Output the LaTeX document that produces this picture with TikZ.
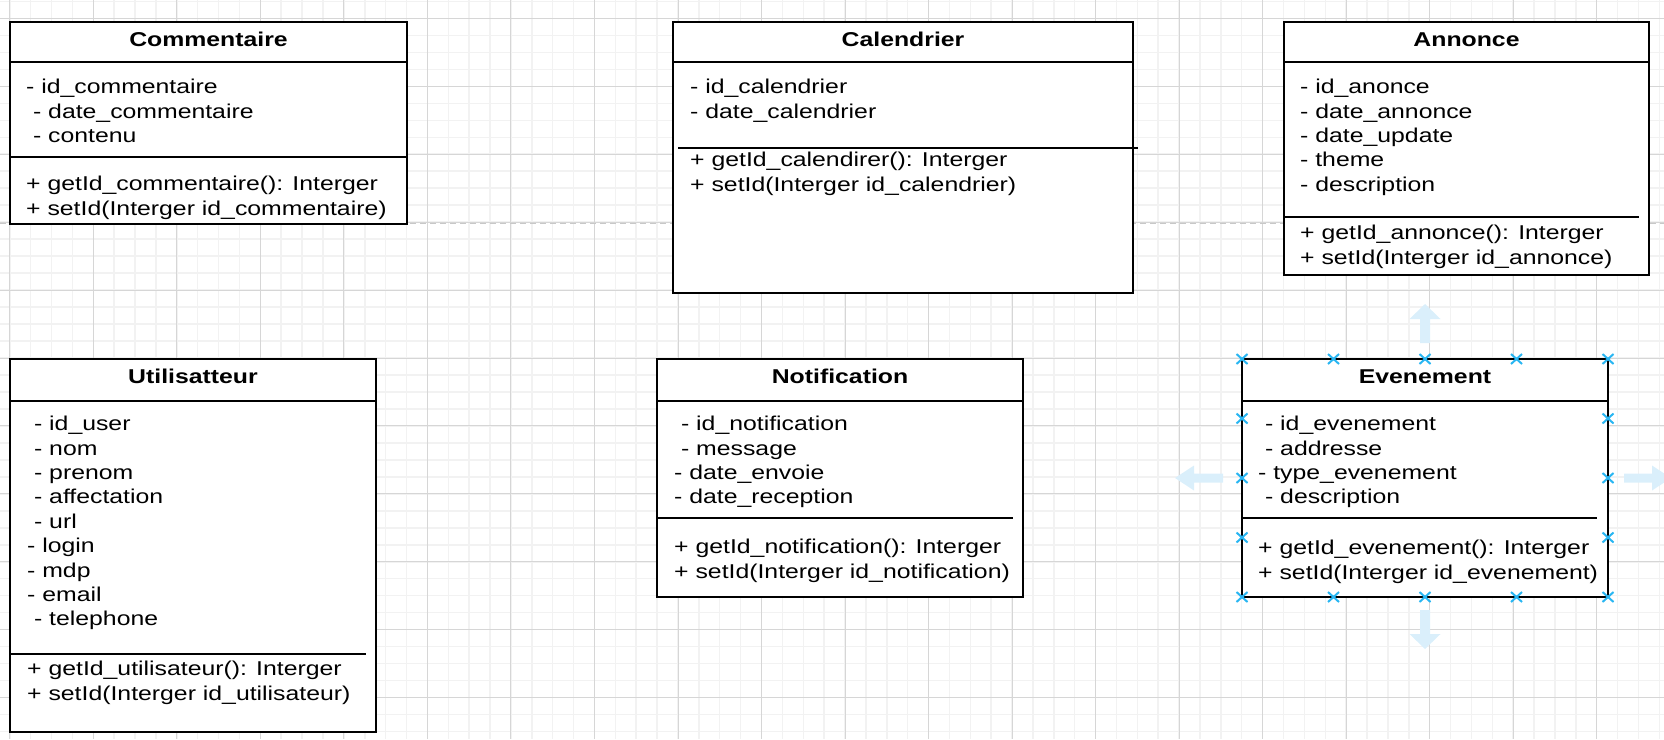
\documentclass[tikz,border=0pt]{standalone}
\usepackage{fontspec}
\setmainfont[FakeStretch=1.24]{Liberation Sans}
\usetikzlibrary{positioning, calc}

\definecolor{gridminor}{RGB}{242,242,242}
\definecolor{gridmajor}{RGB}{214,214,214}
\definecolor{pageline}{RGB}{200,200,200}
\definecolor{selblue}{RGB}{41,182,242}
\definecolor{hintblue}{RGB}{218,239,251}

\begin{document}
\begin{tikzpicture}[x=1pt, y=-1pt,
    classbox/.style={draw, fill=white, line width=1.7pt, anchor=north west, outer sep=0pt, inner sep=0pt},
    classname/.style={anchor=base, inner sep=0pt, font=\fontsize{20}{24.4}\selectfont\bfseries},
    members/.style={anchor=north west, align=left, inner sep=0pt, font=\fontsize{20}{24.4}\selectfont},
    divider/.style={line width=1.4pt},
    minorgrid/.style={gridminor, line width=1.5pt},
    majorgrid/.style={gridmajor, line width=1pt},
    pagebreak/.style={pageline, line width=1pt, dash pattern=on 6pt off 4pt},
    handle/.style={selblue, line width=2pt},
    hint/.style={fill=hintblue}]

    \useasboundingbox (0,0) rectangle (1664,739);
    \clip (0,0) rectangle (1664,739);

    \foreach \i in {-1,...,79} \draw[minorgrid] ({9.8+20.88*\i},0) -- ++(0,739);
    \foreach \j in {-1,...,43} \draw[minorgrid] (0,{18.4+16.98*\j}) -- ++(1664,0);
    \foreach \i in {-1,...,19} \draw[majorgrid] ({9.8+83.53*\i},0) -- ++(0,739);
    \foreach \j in {0,...,11} \draw[majorgrid] (0,{18.4+67.92*\j}) -- ++(1664,0);
    \draw[pagebreak] (0,223.3) -- (1664,223.3);

    % Commentaire
    \node (com) [classbox, minimum width=397, minimum height=202] at (10,22) {};
    \node (com-name) [classname] at (208.5,46.7) {Commentaire};
    \draw[divider] (10,62) -- (407,62);
    \draw[divider] (10,157) -- (407,157);
    \node (com-attr) [members] at (26,76.4) {\strut- id\_commentaire\\
        \ - date\_commentaire\\
        \ - contenu};
    \node (com-meth) [members] at (26,173.4) {\strut+ getId\_commentaire(): Interger\\
        + setId(Interger id\_commentaire)};

    % Calendrier
    \node (cal) [classbox, minimum width=460, minimum height=271] at (673,22) {};
    \node (cal-name) [classname] at (903,46.7) {Calendrier};
    \draw[divider] (673,62) -- (1133,62);
    \draw[divider] (678,148) -- (1138,148);
    \node (cal-attr) [members] at (690,76.4) {\strut- id\_calendrier\\
        - date\_calendrier};
    \node (cal-meth) [members] at (690,149.4) {\strut+ getId\_calendirer(): Interger\\
        + setId(Interger id\_calendrier)};

    % Annonce
    \node (ann) [classbox, minimum width=365, minimum height=253] at (1284,22) {};
    \node (ann-name) [classname] at (1466.5,46.7) {Annonce};
    \draw[divider] (1284,62) -- (1649,62);
    \draw[divider] (1284,217) -- (1639,217);
    \node (ann-attr) [members] at (1300,76.4) {\strut- id\_anonce\\
        - date\_annonce\\
        - date\_update\\
        - theme\\
        - description};
    \node (ann-meth) [members] at (1300,222.4) {\strut+ getId\_annonce(): Interger\\
        + setId(Interger id\_annonce)};

    % Utilisatteur
    \node (uti) [classbox, minimum width=366, minimum height=373] at (10,359) {};
    \node (uti-name) [classname] at (193,383.7) {Utilisatteur};
    \draw[divider] (10,401) -- (376,401);
    \draw[divider] (10,654) -- (366,654);
    \node (uti-attr) [members] at (27,413.4) {\strut\ - id\_user\\
        \ - nom\\
        \ - prenom\\
        \ - affectation\\
        \ - url\\
        - login\\
        - mdp\\
        - email\\
        \ - telephone};
    \node (uti-meth) [members] at (27,658.4) {\strut+ getId\_utilisateur(): Interger\\
        + setId(Interger id\_utilisateur)};

    % Notification
    \node (notif) [classbox, minimum width=366, minimum height=238] at (657,359) {};
    \node (notif-name) [classname] at (840,383.7) {Notification};
    \draw[divider] (657,401) -- (1023,401);
    \draw[divider] (657,518) -- (1013,518);
    \node (notif-attr) [members] at (674,413.4) {\strut\ - id\_notification\\
        \ - message\\
        - date\_envoie\\
        - date\_reception};
    \node (notif-meth) [members] at (674,536.4) {\strut+ getId\_notification(): Interger\\
        + setId(Interger id\_notification)};

    % Evenement
    \node (evt) [classbox, minimum width=366, minimum height=238] at (1242,359) {};
    \node (evt-name) [classname] at (1425,383.7) {Evenement};
    \draw[divider] (1242,401) -- (1608,401);
    \draw[divider] (1242,518) -- (1597,518);
    \node (evt-attr) [members] at (1258,413.4) {\strut\ - id\_evenement\\
        \ - addresse\\
        - type\_evenement\\
        \ - description};
    \node (evt-meth) [members] at (1258,537.4) {\strut+ getId\_evenement(): Interger\\
        + setId(Interger id\_evenement)};

    \foreach \px in {1242,1333.5,1425,1516.5,1608}
        \foreach \py in {359,597}
            \draw[handle] (\px,\py) +(-5.5,-5) -- +(5.5,5) +(-5.5,5) -- +(5.5,-5);
    \foreach \px in {1242,1608}
        \foreach \py in {418.5,478,537.5}
            \draw[handle] (\px,\py) +(-5.5,-5) -- +(5.5,5) +(-5.5,5) -- +(5.5,-5);

    \fill[hint] (1420,343) -- (1420,319) -- (1409.5,319) -- (1425,304) -- (1440.5,319) -- (1430,319) -- (1430,343) -- cycle;
    \fill[hint] (1420,610) -- (1420,634) -- (1409.5,634) -- (1425,649) -- (1440.5,634) -- (1430,634) -- (1430,610) -- cycle;
    \fill[hint] (1223,473.5) -- (1194,473.5) -- (1194,465.5) -- (1175,478) -- (1194,490.5) -- (1194,482.5) -- (1223,482.5) -- cycle;
    \fill[hint] (1624,473.5) -- (1652,473.5) -- (1652,465.5) -- (1671,478) -- (1652,490.5) -- (1652,482.5) -- (1624,482.5) -- cycle;
\end{tikzpicture}
\end{document}
